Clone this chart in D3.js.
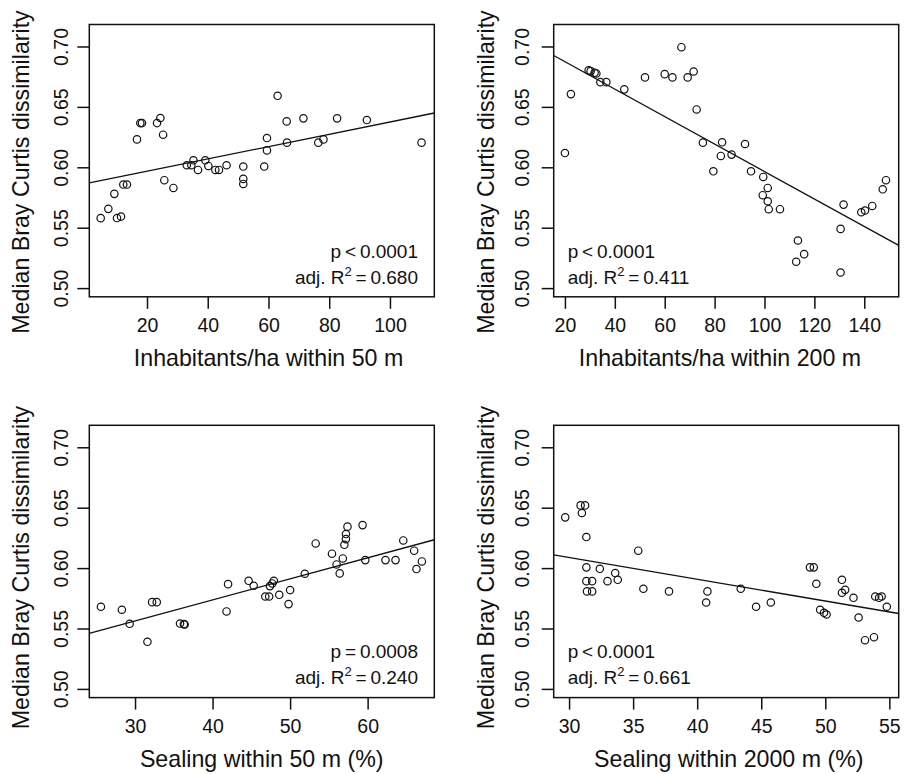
<!DOCTYPE html>
<html><head><meta charset="utf-8">
<script src="https://cdn.jsdelivr.net/npm/d3@7/dist/d3.min.js"></script>
<style>body{margin:0;background:#fff} svg{display:block}</style>
</head><body>
<svg id="chart" width="910" height="774"></svg>
<script>
// ---------- data ----------
const inhab50 = [4.75,7.27,9.25,10.12,11.44,12.2,13.4,16.7,17.8,18.35,23.3,24.4,25.3,25.7,28.7,33.1,34.6,35.3,36.8,39.2,40.2,42.5,43.7,46.2,51.7,51.7,51.7,58.6,59.5,59.5,63.0,66.0,66.1,71.5,76.4,78.1,82.6,92.4,110.4];
const brayInhab50 = [0.5579,0.5656,0.578,0.558,0.5592,0.5857,0.5857,0.6231,0.6366,0.6366,0.6366,0.6408,0.627,0.5893,0.5829,0.6017,0.6017,0.6058,0.5978,0.6058,0.6011,0.5978,0.5978,0.6017,0.6006,0.5904,0.5862,0.6006,0.614,0.6242,0.6592,0.638,0.6204,0.6405,0.6204,0.6231,0.6405,0.6391,0.6204];

const inhab200 = [20.0,22.4,29.5,30.3,31.9,32.6,34.2,36.6,43.8,52.1,60.0,63.1,66.7,69.2,71.6,72.8,75.3,79.5,82.5,83.0,86.8,92.2,94.6,99.5,99.3,101.3,101.3,101.7,106.2,113.4,112.7,115.9,130.5,130.5,131.7,138.8,140.3,143.2,147.4,148.7];
const brayInhab200 = [0.6118,0.6606,0.6802,0.6796,0.6782,0.6777,0.6705,0.6705,0.6645,0.6744,0.6771,0.6744,0.6994,0.6744,0.6793,0.6479,0.6204,0.5967,0.6094,0.6207,0.6105,0.6193,0.5967,0.592,0.5769,0.5829,0.5719,0.5653,0.5653,0.5394,0.5218,0.5281,0.549,0.5129,0.5691,0.5628,0.5642,0.568,0.5818,0.5893];

const seal50 = [25.6,28.3,29.3,31.6,32.2,32.8,35.8,36.3,36.4,41.8,42.0,44.65,45.3,46.8,47.3,47.4,47.7,47.9,48.6,49.8,50.0,51.9,53.3,55.4,56.0,56.4,56.8,57.0,57.2,57.2,57.4,59.35,59.7,62.3,63.6,64.6,66.0,66.3,67.0];
const braySeal50 = [0.568,0.5655,0.5539,0.539,0.5718,0.5718,0.5541,0.5536,0.5533,0.5641,0.5867,0.5895,0.5854,0.5765,0.5765,0.5851,0.5873,0.5895,0.5779,0.5702,0.5818,0.5953,0.6204,0.6119,0.603,0.5956,0.608,0.6193,0.624,0.6282,0.6343,0.6356,0.6066,0.6066,0.6066,0.6229,0.6144,0.5992,0.6055];

const seal2000 = [29.7,30.9,31.25,31.0,31.35,31.35,31.35,31.8,31.4,31.8,32.4,33.0,33.6,33.8,35.4,35.8,37.8,40.7,40.8,43.4,44.6,45.75,48.8,49.1,49.3,49.6,49.9,50.1,51.3,51.3,51.55,52.2,52.6,53.1,53.8,53.9,54.2,54.4,54.8];
const braySeal2000 = [0.642,0.6519,0.6519,0.6456,0.6257,0.6006,0.5892,0.5892,0.5807,0.5807,0.5994,0.5892,0.5959,0.5903,0.6144,0.5829,0.5807,0.5715,0.5807,0.5829,0.568,0.5715,0.6006,0.6006,0.587,0.5655,0.563,0.5616,0.5903,0.5796,0.582,0.5754,0.5591,0.5403,0.5428,0.5765,0.5754,0.5765,0.568];

const fitIntercepts = [0.5865, 0.7102, 0.5041, 0.663];
const fitSlopes = [0.00051, -0.001137, 0.00174, -0.001805];

const xTicks50 = [20,40,60,80,100];
const xTicks200 = [20,40,60,80,100,120,140];
const xTicksSeal50 = [30,40,50,60];
const xTicksSeal2000 = [30,35,40,45,50,55];
const yTicks = [0.50,0.55,0.60,0.65,0.70];

const xTitles = ["Inhabitants/ha within 50 m","Inhabitants/ha within 200 m","Sealing within 50 m (%)","Sealing within 2000 m (%)"];
const yTitle = "Median Bray Curtis dissimilarity";
const pLabels = ["p\u2009<\u20090.0001","p\u2009<\u20090.0001","p\u2009=\u20090.0008","p\u2009<\u20090.0001"];
const r2Values = ["0.680","0.411","0.240","0.661"];

// ---------- layout ----------
const panels = [
  {xs: inhab50, ys: brayInhab50, ticks: xTicks50, xDom: [1.0,114.6], left: 89.3, top: 24.5, titleX: 268.5, titleY: 172, tickLabX: 68.3, statAnchor: "end", statX: 418},
  {xs: inhab200, ys: brayInhab200, ticks: xTicks200, xDom: [15.5,153.8], left: 553.7, top: 24.5, titleX: 720, titleY: 172, tickLabX: 529, statAnchor: "start", statX: 567.7},
  {xs: seal50, ys: braySeal50, ticks: xTicksSeal50, xDom: [24.1,68.6], left: 89.3, top: 425.3, titleX: 261.7, titleY: 567.5, tickLabX: 68.3, statAnchor: "end", statX: 418},
  {xs: seal2000, ys: braySeal2000, ticks: xTicksSeal2000, xDom: [28.8,55.73], left: 553.7, top: 425.3, titleX: 728.8, titleY: 567.5, tickLabX: 529, statAnchor: "start", statX: 567.7}
];
const W = 345, H = 272.3;
const yDom = [0.4928, 0.7182];
const font = "'Liberation Sans', Arial, Helvetica, sans-serif";
const ink = "#111";

const svg = d3.select("#chart");

panels.forEach((p, i) => {
  const x = d3.scaleLinear().domain(p.xDom).range([p.left, p.left + W]);
  const y = d3.scaleLinear().domain(yDom).range([p.top + H, p.top]);
  const g = svg.append("g");
  const clipId = "clip" + i;
  svg.append("clipPath").attr("id", clipId).append("rect")
     .attr("x", p.left).attr("y", p.top).attr("width", W).attr("height", H);

  // x axis
  const xAxis = g.append("g").attr("transform", `translate(0,${p.top + H})`)
    .call(d3.axisBottom(x).tickValues(p.ticks).tickSize(12).tickFormat(d3.format("d")));
  xAxis.select(".domain").remove();
  xAxis.selectAll(".tick line").attr("stroke", ink).attr("stroke-width", 1.5);
  xAxis.selectAll(".tick text").attr("font-family", font).attr("font-size", 19.5).attr("fill", ink)
       .attr("y", 35.6).attr("dy", 0);

  // y axis
  const yAxis = g.append("g").attr("transform", `translate(${p.left},0)`)
    .call(d3.axisLeft(y).tickValues(yTicks).tickSize(12).tickFormat(d3.format(".2f")));
  yAxis.select(".domain").remove();
  yAxis.selectAll(".tick line").attr("stroke", ink).attr("stroke-width", 1.5);
  yAxis.selectAll(".tick text")
       .attr("font-family", font).attr("font-size", 19.5).attr("fill", ink)
       .attr("dy", null)
       .attr("text-anchor", "middle")
       .attr("transform", `translate(${p.tickLabX - p.left},0) rotate(-90)`)
       .attr("x", 0).attr("y", 0);

  // box
  g.append("rect").attr("x", p.left).attr("y", p.top).attr("width", W).attr("height", H)
   .attr("fill", "none").attr("stroke", ink).attr("stroke-width", 1.5);

  // regression line
  const a = fitIntercepts[i], b = fitSlopes[i];
  g.append("line").attr("clip-path", `url(#${clipId})`)
   .attr("x1", x(p.xDom[0])).attr("y1", y(a + b * p.xDom[0]))
   .attr("x2", x(p.xDom[1])).attr("y2", y(a + b * p.xDom[1]))
   .attr("stroke", ink).attr("stroke-width", 1.3);

  // points
  g.selectAll("circle.pt").data(p.xs.map((v, k) => [v, p.ys[k]])).join("circle")
   .attr("class", "pt")
   .attr("cx", d => x(d[0])).attr("cy", d => y(d[1])).attr("r", 3.7)
   .attr("fill", "none").attr("stroke", ink).attr("stroke-width", 1.2);

  // titles
  g.append("text").attr("x", p.titleX).attr("y", p.top + H + 69)
   .attr("text-anchor", "middle").attr("font-family", font).attr("font-size", 23.2).attr("fill", ink)
   .text(xTitles[i]);
  g.append("text").attr("transform", `translate(${p.left - 60},${p.titleY}) rotate(-90)`)
   .attr("text-anchor", "middle").attr("font-family", font).attr("font-size", 23.2).attr("fill", ink)
   .text(yTitle);

  // stats
  const base = p.top + 233;
  g.append("text").attr("x", p.statX).attr("y", base)
   .attr("text-anchor", p.statAnchor).attr("font-family", font).attr("font-size", 19).attr("fill", ink)
   .text(pLabels[i]);
  const t = g.append("text").attr("x", p.statX).attr("y", base + 26)
   .attr("text-anchor", p.statAnchor).attr("font-family", font).attr("font-size", 19).attr("fill", ink);
  t.append("tspan").text("adj. R");
  t.append("tspan").attr("font-size", 13).attr("dy", -8).text("2");
  t.append("tspan").attr("dy", 8).text("\u2009=\u2009" + r2Values[i]);
});
</script>
</body></html>
